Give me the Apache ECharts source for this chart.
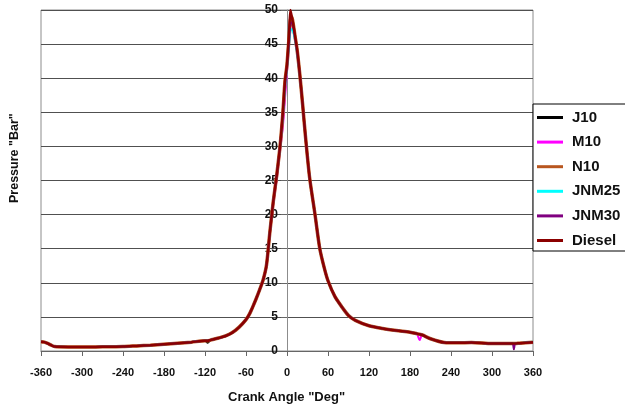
<!DOCTYPE html>
<html>
<head>
<meta charset="utf-8">
<script src="https://cdn.jsdelivr.net/npm/echarts@6/dist/echarts.min.js"></script>
<style>html,body{margin:0;padding:0;background:#fff}#c{width:625px;height:410px}</style>
</head>
<body>
<div id="c"></div>
<script>
// Crank angle (deg)
const angles = [-360,-355,-350,-345,-340,-320,-300,-280,-260,-240,-220,-200,-180,-160,-140,-120,-116,-112,-100,-90,-80,-70,-60,-55,-50,-45,-40,-35,-30,-25,-20,-15,-10,-6,-3,0,3,5,7,9,12,15,19,23,27,33,41,48,55,60,70,80,90,100,120,140,160,180,190,194,198,210,230,250,270,300,320,330,332,334,340,360];

// Pressure (bar) per fuel
const J10 = [1.35,1.3,1.1,0.85,0.65,0.6,0.6,0.6,0.62,0.65,0.75,0.85,1.0,1.15,1.3,1.5,1.2,1.6,1.9,2.2,2.7,3.5,4.6,5.4,6.5,7.7,9.0,10.4,12.6,17.5,22.0,25.8,30.2,35.0,39.0,42.0,46.0,48.5,48.3,47.5,45.8,43.8,40.3,36.0,31.5,25.5,20.0,15.0,12.0,10.3,8.0,6.5,5.2,4.5,3.7,3.3,3.0,2.75,2.55,2.45,2.35,1.8,1.25,1.2,1.25,1.1,1.1,1.1,1.1,1.1,1.15,1.3];
const M10 = [1.35,1.3,1.1,0.85,0.65,0.6,0.6,0.6,0.62,0.65,0.75,0.85,1.0,1.15,1.3,1.5,1.5,1.6,1.9,2.2,2.7,3.5,4.6,5.4,6.5,7.7,9.0,10.4,12.4,17.2,21.5,25.2,29.5,33.0,37.0,41.0,45.0,48.0,48.0,47.2,45.5,43.5,40.0,35.8,31.3,25.4,20.0,15.0,12.0,10.3,8.0,6.5,5.2,4.5,3.7,3.3,3.0,2.75,2.55,1.6,2.35,1.8,1.25,1.2,1.25,1.1,1.1,1.1,1.1,1.1,1.15,1.3];
const N10 = [1.35,1.3,1.1,0.85,0.65,0.6,0.6,0.6,0.62,0.65,0.75,0.85,1.0,1.15,1.3,1.5,1.5,1.6,1.9,2.2,2.7,3.5,4.6,5.4,6.5,7.7,9.0,10.4,12.6,17.5,22.0,25.8,30.2,35.0,39.5,42.0,46.0,48.5,49.0,48.0,46.0,44.0,40.3,36.0,31.5,25.5,20.0,15.0,12.0,10.3,8.0,6.5,5.2,4.5,3.7,3.3,3.0,2.75,2.55,2.45,2.35,1.8,1.25,1.2,1.25,1.1,1.1,1.1,1.1,1.1,1.15,1.3];
const JNM25 = [1.35,1.3,1.1,0.85,0.65,0.6,0.6,0.6,0.62,0.65,0.75,0.85,1.0,1.15,1.3,1.5,1.5,1.6,1.9,2.2,2.7,3.5,4.6,5.4,6.5,7.7,9.0,10.4,12.6,17.5,22.0,25.8,30.0,34.5,38.5,41.5,45.0,47.0,47.2,46.8,45.5,43.5,40.2,36.0,31.5,25.5,20.0,15.0,12.0,10.3,8.0,6.5,5.2,4.5,3.7,3.3,3.0,2.75,2.55,2.45,2.35,1.8,1.25,1.2,1.25,1.1,1.1,1.1,1.1,1.1,1.15,1.35];
const JNM30 = [1.35,1.3,1.1,0.85,0.65,0.6,0.6,0.6,0.62,0.65,0.75,0.85,1.0,1.15,1.3,1.5,1.5,1.6,1.9,2.2,2.7,3.5,4.6,5.4,6.5,7.7,9.0,10.4,12.6,17.5,22.0,25.8,30.2,35.0,39.0,41.8,45.5,48.0,48.2,47.5,45.8,43.8,40.3,36.0,31.5,25.5,20.0,15.0,12.0,10.3,8.0,6.5,5.2,4.5,3.7,3.3,3.0,2.75,2.55,2.45,2.35,1.8,1.25,1.2,1.25,1.1,1.1,1.1,0.25,1.1,1.15,1.3];
const Diesel = [1.35,1.3,1.1,0.85,0.65,0.6,0.6,0.6,0.62,0.65,0.75,0.85,1.0,1.15,1.3,1.5,1.5,1.6,1.9,2.2,2.7,3.5,4.6,5.4,6.5,7.7,9.0,10.4,12.6,17.5,22.0,25.8,30.2,35.0,39.5,42.0,46.5,50.0,49.0,48.0,46.0,44.0,40.3,36.0,31.5,25.5,20.0,15.0,12.0,10.3,8.0,6.5,5.2,4.5,3.7,3.3,3.0,2.75,2.55,2.45,2.35,1.8,1.25,1.2,1.25,1.1,1.1,1.1,1.1,1.1,1.15,1.3];

const seriesNames = ['J10','M10','N10','JNM25','JNM30','Diesel'];
const seriesData = [J10, M10, N10, JNM25, JNM30, Diesel];
const colors = ['#000000','#FF00FF','#B8561F','#00FFFF','#800080','#8B0000'];
const widths = [2,2,3.5,2,2,2.5];

const xTitle = 'Crank Angle "Deg"';
const yTitle = 'Pressure "Bar"';

const chart = echarts.init(document.getElementById('c'), null, {renderer:'canvas'});
const FONT = '"Liberation Sans", Arial, sans-serif';
const gridLeft = 41, gridRight = 92, plotW = 625 - gridLeft - gridRight;

chart.setOption({
  animation: false,
  backgroundColor: '#ffffff',
  grid: {left: gridLeft, right: gridRight, top: 10, bottom: 59, show: true, borderColor: '#8c8c8c', borderWidth: 1},
  xAxis: {
    type: 'value', min: -360, max: 360, interval: 60,
    axisLine: {show: true, onZero: false, lineStyle: {color: '#666', width: 1}},
    axisTick: {show: true, length: 5, lineStyle: {color: '#666'}},
    axisLabel: {margin: 16, color: '#111', fontFamily: FONT, fontSize: 11, fontWeight: 'bold'},
    splitLine: {show: false}
  },
  yAxis: {
    type: 'value', min: 0, max: 50, interval: 5,
    position: 'left',
    offset: -plotW / 2,
    axisLine: {show: true, onZero: false, lineStyle: {color: '#8c8c8c', width: 1}},
    axisTick: {show: true, length: 6, lineStyle: {color: '#666'}},
    axisLabel: {margin: 9, color: '#111', fontFamily: FONT, fontSize: 12, fontWeight: 'bold'},
    splitLine: {show: true, lineStyle: {color: '#505050', width: 1}}
  },
  legend: {
    orient: 'vertical', left: 533, top: 104, right: 0,
    width: 80,
    backgroundColor: '#fff', borderColor: '#000', borderWidth: 1,
    padding: [6, 8, 3, 4],
    icon: 'rect',
    itemWidth: 26, itemHeight: 3, itemGap: 9.6,
    textStyle: {fontFamily: FONT, fontSize: 15, fontWeight: 'bold', color: '#111', lineHeight: 15, padding: [0,0,0,4]},
    data: seriesNames
  },
  graphic: [
    {type: 'text', top: 391, left: 228, style: {text: xTitle, font: 'bold 13px ' + FONT, fill: '#111'}},
    {type: 'text', rotation: Math.PI/2, x: 8, y: 203, style: {text: yTitle, font: 'bold 12.5px ' + FONT, fill: '#111', textAlign: 'left', textVerticalAlign: 'top'}}
  ],
  series: seriesNames.map((n, i) => ({
    name: n, type: 'line', showSymbol: false, symbol: 'none', smooth: 0.25,
    data: angles.map((a, k) => [a, seriesData[i][k]]),
    lineStyle: {color: colors[i], width: widths[i]},
    itemStyle: {color: colors[i]},
    z: 2 + i
  }))
});
</script>
</body>
</html>
